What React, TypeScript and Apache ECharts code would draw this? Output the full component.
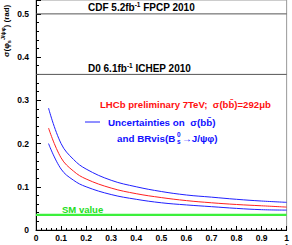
import React, { useEffect, useRef } from 'react';
import * as echarts from 'echarts';

const lumi = [0.05, 0.1, 0.15, 0.2, 0.3, 0.4, 0.5, 0.6, 0.7, 0.8, 0.9, 1.0];
const central = [0.236, 0.167, 0.136, 0.118, 0.097, 0.084, 0.075, 0.068, 0.063, 0.059, 0.056, 0.053];
const upper = [0.282, 0.2, 0.163, 0.141, 0.115, 0.1, 0.089, 0.081, 0.076, 0.071, 0.067, 0.064];
const lower = [0.2, 0.141, 0.115, 0.1, 0.082, 0.071, 0.063, 0.058, 0.054, 0.05, 0.047, 0.046];
const cdfValue = 0.5;
const d0Value = 0.36;
const smValue = 0.035;
const xRange = [0, 1];

const FONT = "'Liberation Sans', Arial, Helvetica, sans-serif";

export default function App() {
  const ref = useRef<HTMLDivElement>(null);
  useEffect(() => {
    if (!ref.current) return;
    const chart = echarts.init(ref.current, undefined, { renderer: 'svg' });
    const pts = (ys: number[]) => lumi.map((x, i) => [x, ys[i]]);
    const hline = (v: number) => xRange.map((x) => [x, v]);
    chart.setOption({
      animation: false,
      backgroundColor: '#ffffff',
      grid: { left: 36, right: 1, top: -2, height: 232, show: true, borderColor: '#999', borderWidth: 1, backgroundColor: 'transparent' },
      xAxis: {
        type: 'value', min: 0, max: 1, interval: 0.1,
        axisLine: { show: true, onZero: false, lineStyle: { color: '#000', width: 1 } },
        axisTick: { show: true, inside: true, length: 4, lineStyle: { color: '#000' } },
        minorTick: { show: true, splitNumber: 5, length: 2, lineStyle: { color: '#000' } },
        splitLine: { show: false },
        axisLabel: { fontFamily: FONT, fontWeight: 'bold', fontSize: 8.5, color: '#000', margin: 3, showMaxLabel: true,
          formatter: (v: number) => String(Math.round(v * 10) / 10) },
      },
      yAxis: {
        type: 'value', min: 0, max: 232 / 436, interval: 0.1,
        axisLine: { show: true, onZero: false, lineStyle: { color: '#000', width: 1 } },
        axisTick: { show: true, inside: true, length: 5, lineStyle: { color: '#000' } },
        minorTick: { show: true, splitNumber: 5, length: 3, lineStyle: { color: '#000' } },
        splitLine: { show: false },
        axisLabel: { fontFamily: FONT, fontWeight: 'bold', fontSize: 8.5, color: '#000', margin: 7,
          formatter: (v: number) => (Math.abs(v * 10 - Math.round(v * 10)) > 1e-6 ? '' : String(Math.round(v * 10) / 10)) },
      },
      series: [
        { type: 'line', data: hline(cdfValue), showSymbol: false, lineStyle: { color: '#555', width: 1 }, silent: true },
        { type: 'line', data: hline(d0Value), showSymbol: false, lineStyle: { color: '#555', width: 1 }, silent: true },
        { type: 'line', data: hline(smValue), showSymbol: false, lineStyle: { color: '#3cf03c', width: 2.4 }, silent: true },
        { type: 'line', data: pts(upper), smooth: 0.4, showSymbol: false, lineStyle: { color: '#2020ff', width: 1 } },
        { type: 'line', data: pts(central), smooth: 0.4, showSymbol: false, lineStyle: { color: '#ff2020', width: 1 } },
        { type: 'line', data: pts(lower), smooth: 0.4, showSymbol: false, lineStyle: { color: '#2020ff', width: 1 } },
      ],
      graphic: [
        { type: 'text', left: 88, top: 1, style: { text: 'CDF 5.2fb{s|-1} FPCP 2010', fill: '#000', font: `bold 10px ${FONT}`,
          rich: { s: { fontSize: 6.5, fontWeight: 'bold', fontFamily: FONT, verticalAlign: 'top', lineHeight: 12 } } } },
        { type: 'text', left: 88, top: 62, style: { text: 'D0 6.1fb{s|-1} ICHEP 2010', fill: '#000', font: `bold 10px ${FONT}`,
          rich: { s: { fontSize: 6.5, fontWeight: 'bold', fontFamily: FONT, verticalAlign: 'top', lineHeight: 12 } } } },
        { type: 'text', x: 100, y: 104, style: { text: 'LHCb preliminary 7TeV;  σ(bb\u0304)=292μb', fill: '#ff1010', font: `bold 9.6px ${FONT}`, verticalAlign: 'middle' } },
        { type: 'line', shape: { x1: 85, y1: 122, x2: 100, y2: 122 }, style: { stroke: '#2020ff', lineWidth: 1 } },
        { type: 'text', x: 108, y: 122, style: { text: 'Uncertainties on  σ(bb\u0304)', fill: '#1010ff', font: `bold 9.8px ${FONT}`, verticalAlign: 'middle' } },
        { type: 'text', x: 117, y: 138, style: { text: 'and BRvis(B', fill: '#1010ff', font: `bold 9.8px ${FONT}`, verticalAlign: 'middle' } },
        { type: 'text', x: 177, y: 134, style: { text: '0', fill: '#1010ff', font: `bold 6.5px ${FONT}`, verticalAlign: 'middle' } },
        { type: 'text', x: 177, y: 141, style: { text: 's', fill: '#1010ff', font: `bold 6.5px ${FONT}`, verticalAlign: 'middle' } },
        { type: 'text', x: 182, y: 138, style: { text: '→J/ψφ)', fill: '#1010ff', font: `bold 9.8px ${FONT}`, verticalAlign: 'middle' } },
        { type: 'text', x: 62, y: 209, style: { text: 'SM value', fill: '#22dd22', font: `bold 9.5px ${FONT}`, verticalAlign: 'middle' } },
        { type: 'text', x: 291, y: 243, style: { text: 'Integrated Luminosity (fb{s|-1})', fill: '#000', font: `bold 8px ${FONT}`, align: 'right', verticalAlign: 'top',
          rich: { s: { fontSize: 5.5, fontWeight: 'bold', fontFamily: FONT, verticalAlign: 'top' } } } },
        { type: 'text', x: 6, y: 57, rotation: Math.PI / 2, style: { text: 'σ(φ{b|s}{t|J/ψφ}) (rad)', fill: '#000', font: `bold 8px ${FONT}`, align: 'left', verticalAlign: 'middle',
          rich: { b: { fontSize: 5.5, fontWeight: 'bold', fontFamily: FONT, verticalAlign: 'bottom', lineHeight: 12 }, t: { fontSize: 5.5, fontWeight: 'bold', fontFamily: FONT, verticalAlign: 'top', lineHeight: 12 } } } },
      ],
    });
    return () => chart.dispose();
  }, []);
  return <div ref={ref} style={{ position: 'fixed', left: 0, top: 0, width: 292, height: 245 }} />;
}
